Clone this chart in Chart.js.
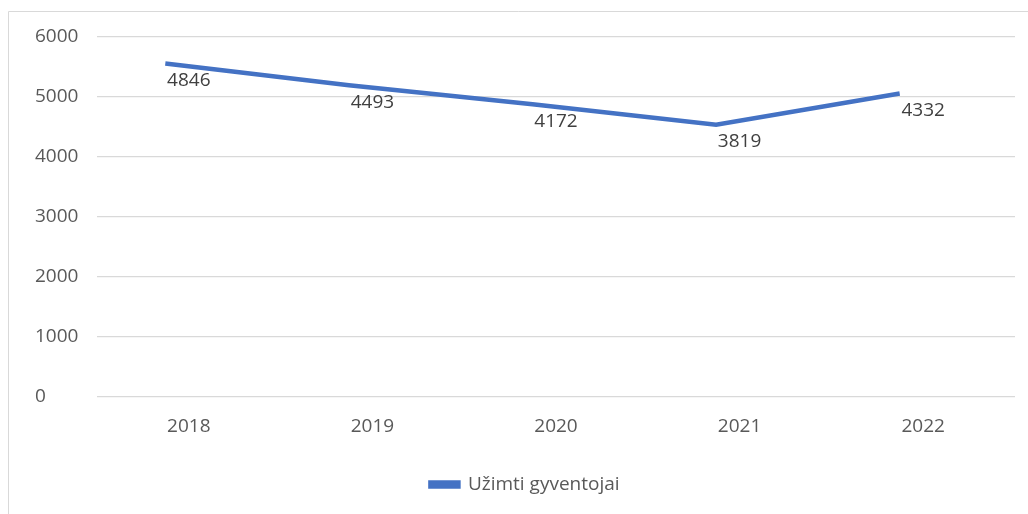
<!DOCTYPE html>
<html lang="lt">
<head>
    <meta charset="UTF-8">
    <title>Užimti gyventojai</title>
    <script src="https://cdn.jsdelivr.net/npm/chart.js"></script>
    <style>
        html, body {
            margin: 0;
            padding: 0;
            background: #fff;
        }
        .wrap {
            width: 1028px;
            height: 514px;
            position: relative;
        }
    </style>
</head>
<body>

<div class="wrap">
    <canvas id="chart"></canvas>
</div>

<script>
    // Duomenys
    const years = ['2018', '2019', '2020', '2021', '2022'];
    const linePoints = [5556, 5195, 4875, 4535, 5055];   // kur linija nubrėžta paveiksle
    const valueLabels = [4846, 4493, 4172, 3819, 4332];  // užrašai prie taškų
    const yTicks = [0, 1000, 2000, 3000, 4000, 5000, 6000];
    const seriesName = 'Užimti gyventojai';

    const FONT = '"Open Sans", "Noto Sans", sans-serif';
    const lineShift = 0.128; // linija paslinkta kairėn nuo kategorijų centrų

    // Rėmelis (viršus ir kairė)
    const frame = {
        id: 'frame',
        beforeDraw(chart) {
            const c = chart.ctx;
            c.save();
            c.strokeStyle = '#d9d9d9';
            c.lineWidth = 1;
            c.beginPath();
            c.moveTo(8.5, chart.height);
            c.lineTo(8.5, 11.5);
            c.lineTo(chart.width, 11.5);
            c.stroke();
            c.restore();
        }
    };

    // Reikšmių užrašai
    const dataLabels = {
        id: 'dataLabels',
        afterDatasetsDraw(chart) {
            const c = chart.ctx;
            const x = chart.scales.x;
            const y = chart.scales.y;
            c.save();
            c.fillStyle = '#404040';
            c.font = '19px ' + FONT;
            c.textAlign = 'center';
            c.textBaseline = 'middle';
            valueLabels.forEach((v, i) => {
                c.fillText(String(v), x.getPixelForValue(i), y.getPixelForValue(linePoints[i]) + 17);
            });
            c.restore();
        }
    };

    new Chart(document.getElementById('chart'), {
        type: 'line',
        data: {
            labels: years,
            datasets: [{
                label: seriesName,
                data: linePoints.map((v, i) => ({ x: i, y: v })),
                xAxisID: 'xLine',
                borderColor: '#4472c4',
                backgroundColor: '#4472c4',
                borderWidth: 4.5,
                pointRadius: 0,
                tension: 0
            }]
        },
        options: {
            responsive: true,
            maintainAspectRatio: false,
            animation: false,
            layout: {
                padding: { left: 35, right: 13, top: 37, bottom: 10 }
            },
            plugins: {
                legend: {
                    position: 'bottom',
                    labels: {
                        boxWidth: 28,
                        boxHeight: 4,
                        color: '#595959',
                        font: { family: FONT, size: 19 },
                        padding: 20
                    }
                },
                tooltip: { enabled: false }
            },
            scales: {
                x: {
                    type: 'category',
                    offset: true,
                    afterFit(scale) {
                        scale.height += 6;
                    },
                    grid: { display: false },
                    border: { display: false },
                    ticks: {
                        color: '#595959',
                        font: { family: FONT, size: 19 },
                        padding: 11,
                        maxRotation: 0
                    }
                },
                xLine: {
                    type: 'linear',
                    display: false,
                    min: -0.5 + lineShift,
                    max: years.length - 0.5 + lineShift
                },
                y: {
                    min: 0,
                    max: 6000,
                    afterBuildTicks(scale) {
                        scale.ticks = yTicks.map(v => ({ value: v }));
                    },
                    afterFit(scale) {
                        scale.width = 62;
                    },
                    grid: {
                        color: '#d9d9d9',
                        lineWidth: 1.3,
                        drawTicks: false
                    },
                    border: { display: false },
                    ticks: {
                        color: '#595959',
                        font: { family: FONT, size: 19 },
                        crossAlign: 'far',
                        padding: 13,
                        callback: v => String(v)
                    }
                }
            }
        },
        plugins: [frame, dataLabels]
    });
</script>

</body>
</html>
